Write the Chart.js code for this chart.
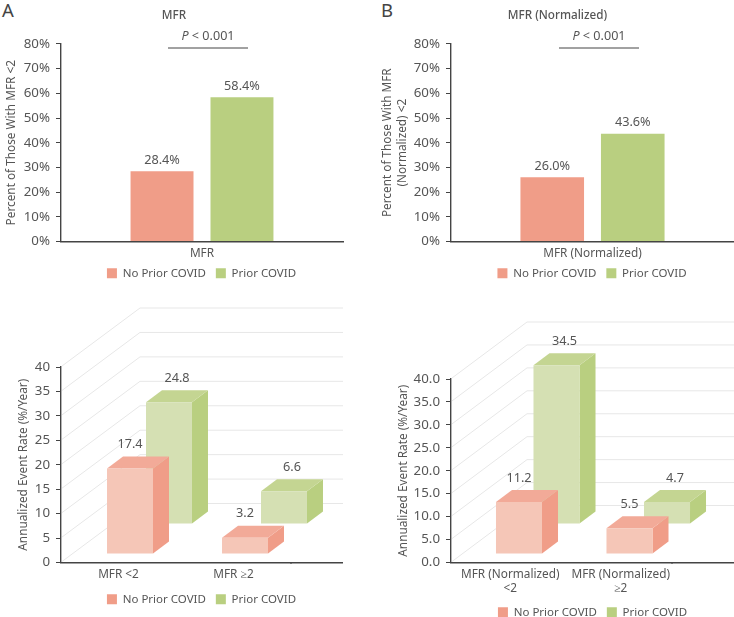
<!DOCTYPE html>
<html>
<head>
<meta charset="utf-8">
<script src="https://cdn.jsdelivr.net/npm/chart.js@4"></script>
<style>
html, body { margin: 0; width: 734px; height: 617px; overflow: hidden; background: #fff; }
.panel { position: absolute; }
.letter { position: absolute; top: -3px; font: 18.5px "Noto Sans"; color: #444; }
</style>
</head>
<body>
<div class="letter" style="left:2px">A</div>
<div class="letter" style="left:381px">B</div>
<canvas class="panel" id="chartA" width="367" height="300" style="left:0;top:0"></canvas>
<canvas class="panel" id="chartB" width="367" height="300" style="left:367px;top:0"></canvas>
<canvas class="panel" id="chartC" width="367" height="322" style="left:0;top:295px"></canvas>
<canvas class="panel" id="chartD" width="367" height="334" style="left:367px;top:295px"></canvas>
<script>
const seriesNames = ['No Prior COVID', 'Prior COVID'];

const percentLabelsA = ['MFR'];
const percentNoCovidA = [28.4];
const percentCovidA = [58.4];

const percentLabelsB = ['MFR (Normalized)'];
const percentNoCovidB = [26.0];
const percentCovidB = [43.6];

const rateLabelsA = ['MFR <2', 'MFR ≥2'];
const rateNoCovidA = [17.4, 3.2];
const rateCovidA = [24.8, 6.6];

const rateLabelsB = [['MFR (Normalized)', '<2'], ['MFR (Normalized)', '≥2']];
const rateNoCovidB = [11.2, 5.5];
const rateCovidB = [34.5, 4.7];

const FONT = '"Noto Sans"';
const TEXT = '#555';
const AXIS = '#444';
const RED = { front: '#f5c6b7', top: '#f2aa98', side: '#f09d88', flat: '#f09d88' };
const GREEN = { front: '#d5e0b3', top: '#c4d592', side: '#b9cf80', flat: '#b9cf80' };
const DEPTH_X = 16;
const DEPTH_Y = 12;

// the legend is centred under the bars, not under the padded box
const legendNudge = {
  id: 'legendNudge',
  afterLayout(chart, args, opts) {
    const lg = chart.legend;
    lg.left += opts.dx;
    lg.right += opts.dx;
    lg.top += opts.dy;
    lg.bottom += opts.dy;
  }
};

// P value bracket above the flat charts
const pBracket = {
  id: 'pBracket',
  afterDraw(chart, args, opts) {
    const { ctx } = chart;
    const cx = opts.center;
    ctx.save();
    ctx.strokeStyle = AXIS;
    ctx.lineWidth = 1;
    ctx.beginPath();
    ctx.moveTo(cx - 40, 48);
    ctx.lineTo(cx + 40, 48);
    ctx.stroke();
    ctx.fillStyle = TEXT;
    ctx.textBaseline = 'middle';
    ctx.font = `italic 12.6px ${FONT}`;
    const w1 = ctx.measureText('P').width;
    ctx.font = `12.6px ${FONT}`;
    const rest = ' < 0.001';
    const w2 = ctx.measureText(rest).width;
    ctx.textAlign = 'left';
    ctx.fillText(rest, cx - (w1 + w2) / 2 + w1, 36);
    ctx.font = `italic 12.6px ${FONT}`;
    ctx.fillText('P', cx - (w1 + w2) / 2, 36);
    ctx.restore();
  }
};

// value labels on the flat bars
const flatLabels = {
  id: 'flatLabels',
  afterDatasetsDraw(chart) {
    const { ctx } = chart;
    ctx.save();
    ctx.fillStyle = TEXT;
    ctx.font = `12.7px ${FONT}`;
    ctx.textAlign = 'center';
    ctx.textBaseline = 'middle';
    chart.getSortedVisibleDatasetMetas().forEach(meta => {
      meta.data.forEach((bar, i) => {
        const v = chart.data.datasets[meta.index].data[i];
        ctx.fillText(v.toFixed(1) + '%', bar.x, bar.y - 11);
      });
    });
    ctx.restore();
  }
};

function poly(ctx, color, pts) {
  ctx.fillStyle = color;
  ctx.beginPath();
  pts.forEach((p, i) => i ? ctx.lineTo(p[0], p[1]) : ctx.moveTo(p[0], p[1]));
  ctx.closePath();
  ctx.fill();
}

// back wall, slanted grid lines, and the box sides of the bars
const box3d = {
  id: 'box3d',
  beforeDatasetsDraw(chart, args, opts) {
    const { ctx, chartArea, scales } = chart;
    ctx.save();
    ctx.strokeStyle = '#e7e7e7';
    ctx.lineWidth = 1;
    scales.y.ticks.forEach(t => {
      const y = scales.y.getPixelForValue(t.value);
      ctx.beginPath();
      ctx.moveTo(chartArea.left + 1, y - 1);
      ctx.lineTo(chartArea.left + opts.wallX, y - opts.wallY);
      ctx.lineTo(opts.wallEnd, y - opts.wallY);
      ctx.stroke();
    });
    // carry the x axis line on past the last category, on the same pixel row
    ctx.strokeStyle = AXIS;
    ctx.lineWidth = 1.4;
    const axisY = Math.round(chartArea.bottom - 0.7) + 0.7;
    ctx.beginPath();
    ctx.moveTo(chartArea.right - 1, axisY);
    ctx.lineTo(opts.wallEnd, axisY);
    ctx.stroke();
    ctx.restore();
  },
  beforeDatasetDraw(chart, args, opts) {
    const { ctx } = chart;
    const colors = chart.data.datasets[args.index].faces;
    ctx.save();
    ctx.translate(opts.shift, 0);
    args.meta.data.forEach(bar => {
      const l = bar.x - bar.width / 2;
      const r = bar.x + bar.width / 2;
      poly(ctx, colors.side, [[r, bar.y], [r + DEPTH_X, bar.y - DEPTH_Y], [r + DEPTH_X, bar.base - DEPTH_Y], [r, bar.base]]);
      poly(ctx, colors.top, [[l, bar.y], [l + DEPTH_X, bar.y - DEPTH_Y], [r + DEPTH_X, bar.y - DEPTH_Y], [r, bar.y]]);
    });
  },
  afterDatasetDraw(chart) {
    chart.ctx.restore();
  },
  afterDatasetsDraw(chart, args, opts) {
    const { ctx } = chart;
    ctx.save();
    ctx.fillStyle = TEXT;
    ctx.font = `12.7px ${FONT}`;
    ctx.textAlign = 'center';
    ctx.textBaseline = 'middle';
    chart.getSortedVisibleDatasetMetas().forEach(meta => {
      const ds = chart.data.datasets[meta.index];
      meta.data.forEach((bar, i) => {
        ctx.fillText(ds.values[i].toFixed(1), bar.x + opts.shift + ds.labelDx, bar.y - DEPTH_Y - 12);
      });
    });
    ctx.restore();
  }
};

function baseOptions(p) {
  return {
    responsive: false,
    animation: false,
    layout: { padding: { left: p.padLeft, right: p.padRight, top: p.padTop || 0, bottom: 0 } },
    plugins: {
      title: p.title
        ? { display: true, text: p.title, color: TEXT, font: { family: FONT, size: 11.7, weight: '500' }, padding: { top: 9, bottom: 20.9 } }
        : { display: false },
      legend: {
        position: 'bottom',
        labels: { boxWidth: 10, boxHeight: 10, color: TEXT, padding: 10, font: { family: FONT, size: 11.5 } }
      },
      tooltip: { enabled: false },
      legendNudge: p.legend,
      pBracket: p.bracket,
      box3d: p.box
    },
    scales: {
      x: {
        grid: { display: false, drawTicks: false },
        border: { display: true, color: AXIS, width: 1.4 },
        afterFit: s => { s.height = p.xHeight; },
        ticks: { color: TEXT, padding: 5, maxRotation: 0, autoSkip: false, labelOffset: p.labelOffset || 0, font: { family: FONT, size: 11.8 } }
      },
      y: {
        min: 0,
        max: p.max,
        afterFit: s => { s.width = p.axisX - p.padLeft; },
        grid: { drawOnChartArea: false, color: AXIS, tickLength: 5 },
        border: { display: true, color: AXIS, width: 1.4 },
        title: { display: true, text: p.yTitle, color: TEXT, padding: 0, font: { family: FONT, size: 11.8 } },
        ticks: { stepSize: p.step, color: TEXT, padding: 6, callback: p.fmt, font: { family: FONT, size: 13.3 } }
      }
    }
  };
}

function flatChart(id, labels, noCovid, covid, p) {
  return new Chart(document.getElementById(id), {
    type: 'bar',
    plugins: [legendNudge, pBracket, flatLabels],
    data: {
      labels,
      datasets: [
        { label: seriesNames[0], data: noCovid, backgroundColor: RED.flat, categoryPercentage: p.cat, barPercentage: p.bar },
        { label: seriesNames[1], data: covid, backgroundColor: GREEN.flat, categoryPercentage: p.cat, barPercentage: p.bar }
      ]
    },
    options: baseOptions(Object.assign({ max: 80, step: 10, fmt: v => v + '%' }, p))
  });
}

function boxChart(id, labels, noCovid, covid, p) {
  const opts = baseOptions(Object.assign({ max: 40, step: 5 }, p));
  opts.plugins.legend.labels.generateLabels = chart => chart.data.datasets.map((ds, i) => ({
    text: ds.label, fillStyle: ds.faces.flat, strokeStyle: ds.faces.flat, lineWidth: 0, fontColor: TEXT, datasetIndex: i
  }));
  return new Chart(document.getElementById(id), {
    type: 'bar',
    plugins: [legendNudge, box3d],
    data: {
      labels,
      datasets: [
        // front faces float above the floor of the box
        { label: seriesNames[0], values: noCovid, faces: RED, labelDx: 0, clip: false, data: noCovid.map(v => [p.floorFront, p.floorFront + v]), backgroundColor: RED.front, categoryPercentage: p.cat, barPercentage: p.bar },
        { label: seriesNames[1], values: covid, faces: GREEN, labelDx: 8, clip: false, data: covid.map(v => [p.floorBack, p.floorBack + v]), backgroundColor: GREEN.front, categoryPercentage: p.cat, barPercentage: p.bar }
      ]
    },
    options: opts
  });
}

flatChart('chartA', percentLabelsA, percentNoCovidA, percentCovidA, {
  title: 'MFR', yTitle: 'Percent of Those With MFR <2', padLeft: 5, padRight: 24, axisX: 61, xHeight: 27,
  cat: 0.567, bar: 0.7875, bracket: { center: 208 }, legend: { dx: 27.5, dy: -11 }
});
flatChart('chartB', percentLabelsB, percentNoCovidB, percentCovidB, {
  title: 'MFR (Normalized)', yTitle: ['Percent of Those With MFR', '(Normalized) <2'], padLeft: 14, padRight: 0, axisX: 84, xHeight: 27,
  cat: 0.569, bar: 0.79, bracket: { center: 232 }, legend: { dx: 34.5, dy: -11 }
});
boxChart('chartC', rateLabelsA, rateNoCovidA, rateCovidA, {
  yTitle: 'Annualized Event Rate (%/Year)', padLeft: 17, padRight: 76, padTop: 72, axisX: 61, xHeight: 23,
  cat: 0.678, bar: 1.1795, floorFront: 1.85, floorBack: 8, fmt: v => v,
  box: { shift: 31, wallX: 79, wallY: 59, wallEnd: 343 }, legend: { dx: 47.5, dy: -2 }
});
boxChart('chartD', rateLabelsB, rateNoCovidB, rateCovidB, {
  yTitle: 'Annualized Event Rate (%/Year)', padLeft: 30, padRight: 62, padTop: 84, axisX: 84, xHeight: 35, labelOffset: 4,
  cat: 0.679, bar: 1.227, floorFront: 1.97, floorBack: 8.5, fmt: v => v.toFixed(1),
  box: { shift: 31.5, wallX: 76, wallY: 57, wallEnd: 367 }, legend: { dx: 58, dy: -1 }
});
</script>
</body>
</html>
